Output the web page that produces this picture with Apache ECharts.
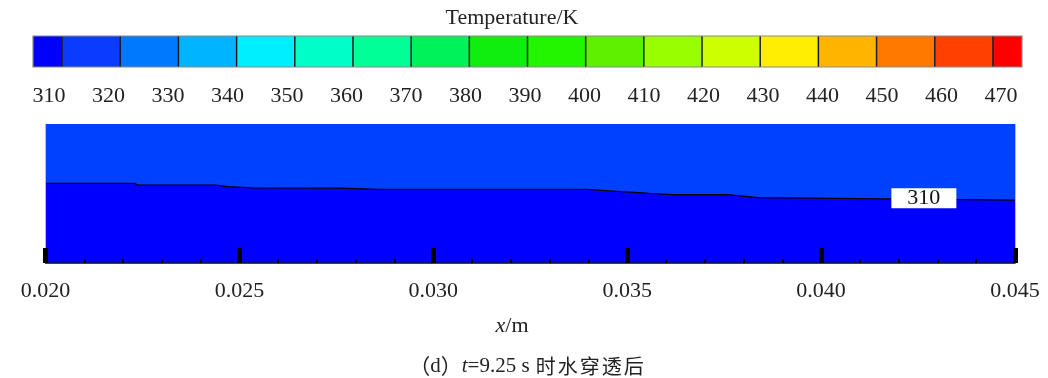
<!DOCTYPE html>
<html><head><meta charset="utf-8">
<script src="https://cdn.jsdelivr.net/npm/echarts@6/dist/echarts.min.js"></script>
<style>html,body{margin:0;padding:0;background:#fff}#c{width:1048px;height:378px}</style>
</head><body><div id="c"></div>
<script>
// ---- data ----
const colorbarColors = ['#0000ff','#0a3cff','#0079ff','#00b4ff','#00efff','#00ffc8','#00ff96','#00f25a','#10ee10','#22f500','#5ff000','#99ff00','#ccff00','#ffee00','#ffb400','#ff7800','#ff4000','#ff0000'];
const colorbarEdges = [0,0.5,1.5,2.5,3.5,4.5,5.5,6.5,7.5,8.5,9.5,10.5,11.5,12.5,13.5,14.5,15.5,16.5,17];
const colorbarTicks = [310,320,330,340,350,360,370,380,390,400,410,420,430,440,450,460,470];
const xTicks = [0.020,0.025,0.030,0.035,0.040,0.045];
const interfaceX = [0.0200,0.0223,0.02237,0.02437,0.0247,0.02535,0.0276,0.0286,0.03395,0.03486,0.03558,0.03615,0.03756,0.03841,0.0450];
const interfaceH = [0.573,0.573,0.562,0.561,0.549,0.540,0.538,0.530,0.530,0.513,0.501,0.492,0.492,0.470,0.453];
const contourLabelX = [0.04265];
const contourLabelY = [0.466];
const contourLabelText = ['310'];

const serif = '"Liberation Serif","Times New Roman",serif';
const cbData = colorbarColors.map((c,i)=>[colorbarEdges[i], colorbarEdges[i+1], i]);
const lineData = interfaceX.map((x,i)=>[x, interfaceH[i]]);

const chart = echarts.init(document.getElementById('c'), null, {renderer:'canvas'});
chart.setOption({
  animation:false,
  backgroundColor:'#fff',
  grid:[
    {left:33, top:36, width:989, height:31, show:false},
    {left:45.5, top:124, width:969.5, height:139, show:true, backgroundColor:'#0040ff', borderWidth:0}
  ],
  xAxis:[
    {gridIndex:0, type:'value', min:0, max:17, show:false},
    {gridIndex:0, type:'value', min:307.31, max:473.53, position:'bottom',
      axisLine:{show:false}, axisTick:{show:false}, splitLine:{show:false},
      axisLabel:{customValues:colorbarTicks, margin:18, color:'#222', fontSize:22, fontFamily:serif}},
    {gridIndex:1, type:'value', min:xTicks[0], max:xTicks[xTicks.length-1], interval:0.005, position:'bottom', z:10,
      axisLine:{show:true, lineStyle:{color:'#b8b8ec', width:1}},
      axisTick:{show:true, inside:true, length:15, lineStyle:{color:'#000', width:5}},
      minorTick:{show:true, splitNumber:5, length:4, lineStyle:{color:'#000', width:2}},
      splitLine:{show:false}, minorSplitLine:{show:false},
      axisLabel:{customValues:xTicks, formatter:v=>v.toFixed(3), margin:17, color:'#222', fontSize:22, fontFamily:serif}},
    {gridIndex:1, type:'value', min:xTicks[0], max:xTicks[xTicks.length-1], position:'top', z:10,
      axisLine:{show:true, lineStyle:{color:'#141440', width:1.5}},
      axisTick:{show:false}, axisLabel:{show:false}, splitLine:{show:false}}
  ],
  yAxis:[
    {gridIndex:0, type:'value', min:0, max:1, show:false},
    {gridIndex:1, type:'value', min:0, max:1, position:'left', z:10,
      axisLine:{show:true, lineStyle:{color:'#b8b8ec', width:1}},
      axisTick:{show:false}, axisLabel:{show:false}, splitLine:{show:false}},
    {gridIndex:1, type:'value', min:0, max:1, position:'right', z:10,
      axisLine:{show:true, lineStyle:{color:'#b8b8ec', width:1}},
      axisTick:{show:false}, axisLabel:{show:false}, splitLine:{show:false}}
  ],
  graphic:[
    {type:'text', x:512, y:18, style:{text:'Temperature/K', font:'22px '+serif, fill:'#222', textAlign:'center', textVerticalAlign:'middle'}},
    {type:'text', x:512, y:326, style:{text:'{i|x}{n|/m}', textAlign:'center', textVerticalAlign:'middle',
      rich:{i:{font:'italic 22px '+serif, fill:'#222'}, n:{font:'22px '+serif, fill:'#222'}}}},
    {type:'text', x:527, y:366, style:{text:'{p|（}{n|d}{p|）}{i|t}{n|=9.25 s }{c|时}{c|水}{c|穿}{c|透}{c|后}', textAlign:'center', textVerticalAlign:'middle',
      rich:{n:{font:'21px '+serif, fill:'#222'}, i:{font:'italic 21px '+serif, fill:'#222'},
        p:{font:'21px "Noto Sans CJK SC",sans-serif', fill:'#222'},
        c:{font:'20px "Noto Sans CJK SC",sans-serif', fill:'#222', padding:[0,1,0,1]}}}}
  ],
  series:[
    {type:'custom', xAxisIndex:0, yAxisIndex:0, data:cbData, clip:false,
      renderItem:function(params, api){
        const s = api.value(0), e = api.value(1), idx = api.value(2);
        const p0 = api.coord([s,1]), p1 = api.coord([e,0]);
        const children = [{type:'rect', shape:{x:p0[0], y:p0[1], width:p1[0]-p0[0], height:p1[1]-p0[1]}, style:{fill:colorbarColors[idx]}}];
        if (idx>0) children.push({type:'line', z2:5, shape:{x1:p0[0], y1:p0[1], x2:p0[0], y2:p1[1]}, style:{stroke:'#1e1e1e', lineWidth:1.5}});
        if (idx===0) {
          const q0 = api.coord([colorbarEdges[0],1]), q1 = api.coord([colorbarEdges[colorbarEdges.length-1],0]);
          children.push({type:'rect', z2:10, shape:{x:q0[0], y:q0[1], width:q1[0]-q0[0], height:q1[1]-q0[1]}, style:{fill:'none', stroke:'#8a8a8a', lineWidth:1.2}});
        }
        return {type:'group', children:children};
      }},
    {type:'line', xAxisIndex:2, yAxisIndex:1, data:lineData, symbol:'none', smooth:false,
      lineStyle:{color:'#000', width:1.2}, areaStyle:{color:'#0000ff', opacity:1},
      markPoint:{symbol:'rect', symbolSize:[65,20], itemStyle:{color:'#fff'},
        label:{show:true, color:'#111', fontSize:22, fontFamily:serif, formatter:p=>p.name},
        data:contourLabelX.map((x,i)=>({name:contourLabelText[i], coord:[x, contourLabelY[i]]}))}}
  ]
});
</script></body></html>
